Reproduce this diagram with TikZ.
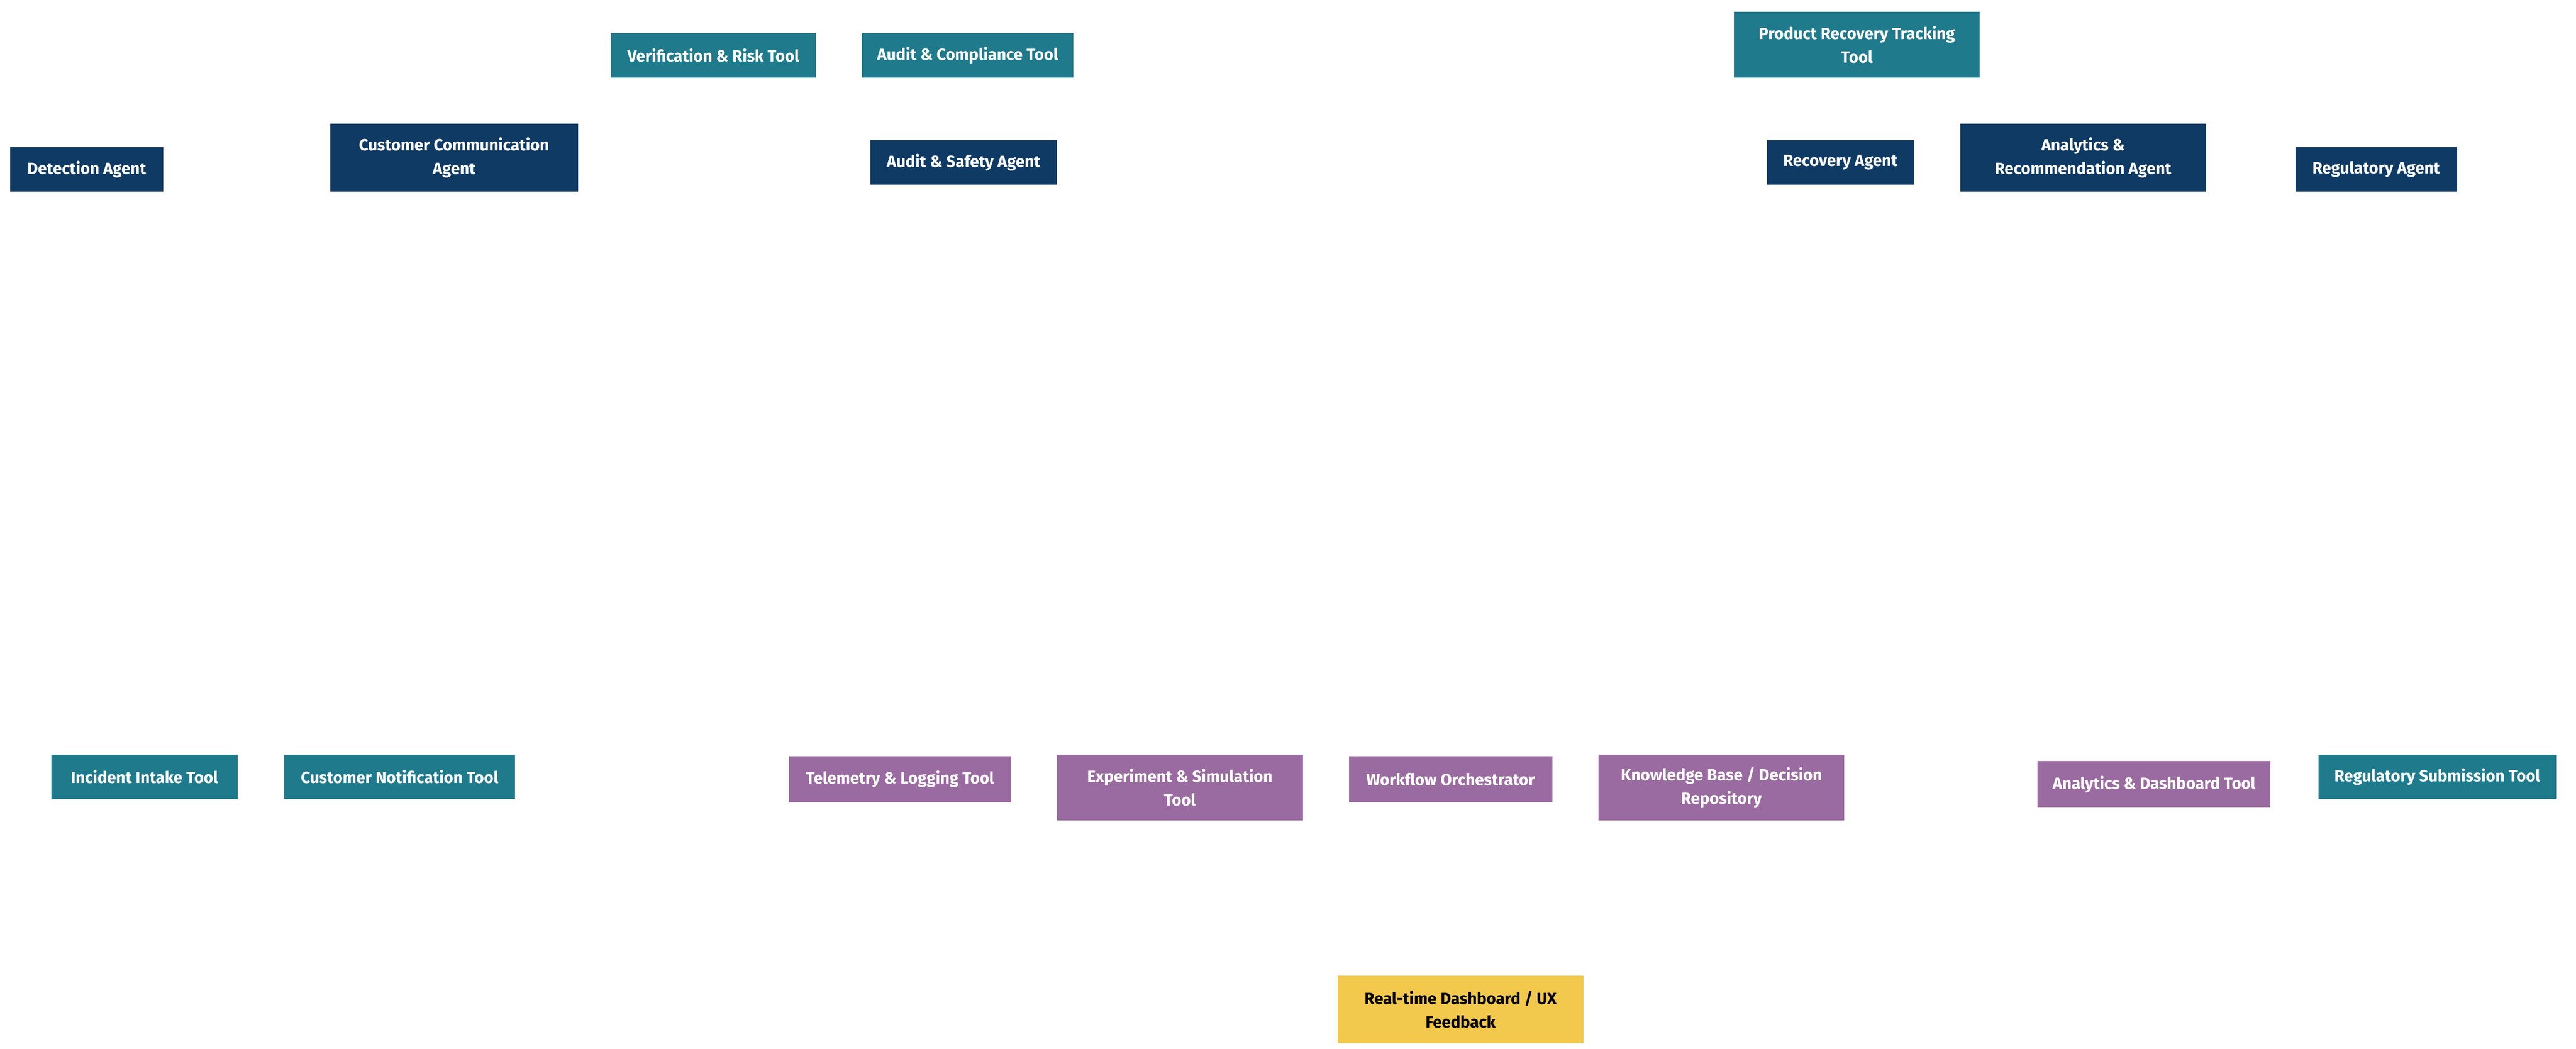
\documentclass[tikz,border=0pt]{standalone}
\usepackage{fontspec}
\setmainfont{Fira Sans}
\usepackage{tikz}
\usetikzlibrary{positioning}
\definecolor{agentblue}{HTML}{0F3A64}
\definecolor{tooltea}{HTML}{1F7A8C}
\definecolor{infrapurple}{HTML}{9A6BA0}
\definecolor{uiyellow}{HTML}{F2C94C}

\begin{document}
\begin{tikzpicture}[x=0.02cm, y=-0.02cm, box/.style={rectangle, inner sep=0pt, align=center, font=\fontsize{5.6}{8.2}\selectfont\bfseries}, agent/.style={box, fill=agentblue, text=white}, tool/.style={box, fill=tooltea, text=white}, infra/.style={box, fill=infrapurple, text=white}, ui/.style={box, fill=uiyellow, text=black}]
    \useasboundingbox (0,0) rectangle (1560,635.4);

    %Agents
    \node[agent, minimum width=93\pgflinewidth, minimum width=1.86cm, minimum height=0.54cm](detection) at (52.5,102.5){Detection Agent};
    \node[agent, minimum width=3.0cm, minimum height=0.82cm](custcomm) at (275,95.5){Customer Communication\\Agent};
    \node[agent, minimum width=2.26cm, minimum height=0.54cm](auditsafety) at (583.5,98.5){Audit \& Safety Agent};
    \node[agent, minimum width=1.78cm, minimum height=0.54cm](recovery) at (1114.5,98.5){Recovery Agent};
    \node[agent, minimum width=2.98cm, minimum height=0.82cm](analyticsrec) at (1261.5,95.5){Analytics \&\\Recommendation Agent};
    \node[agent, minimum width=1.96cm, minimum height=0.54cm](regulatory) at (1439,102.5){Regulatory Agent};

    %Tools
    \node[tool, minimum width=2.48cm, minimum height=0.54cm](verifrisk) at (432,33.5){Verification \& Risk Tool};
    \node[tool, minimum width=2.56cm, minimum height=0.54cm](auditcomp) at (586,33.5){Audit \& Compliance Tool};
    \node[tool, minimum width=2.98cm, minimum height=0.8cm](prodrecovery) at (1124.5,27){Product Recovery Tracking\\Tool};
    \node[tool, minimum width=2.26cm, minimum height=0.54cm](intake) at (87.5,470.5){Incident Intake Tool};
    \node[tool, minimum width=2.8cm, minimum height=0.54cm](custnotify) at (242,470.5){Customer Notification Tool};
    \node[tool, minimum width=2.88cm, minimum height=0.54cm](regsubmit) at (1476,470.5){Regulatory Submission Tool};

    %Infrastructure
    \node[infra, minimum width=2.68cm, minimum height=0.56cm](telemetry) at (545,472){Telemetry \& Logging Tool};
    \node[infra, minimum width=2.98cm, minimum height=0.8cm](experiment) at (714.5,477){Experiment \& Simulation\\Tool};
    \node[infra, minimum width=2.46cm, minimum height=0.56cm](orchestrator) at (878.5,472){Workflow Orchestrator};
    \node[infra, minimum width=2.98cm, minimum height=0.8cm](knowledge) at (1042.5,477){Knowledge Base / Decision\\Repository};
    \node[infra, minimum width=2.82cm, minimum height=0.56cm](dashtool) at (1304.5,475){Analytics \& Dashboard Tool};

    %Interface
    \node[ui, minimum width=2.98cm, minimum height=0.82cm](dashboard) at (884.5,611.5){Real-time Dashboard / UX\\Feedback};

\end{tikzpicture}
\end{document}
